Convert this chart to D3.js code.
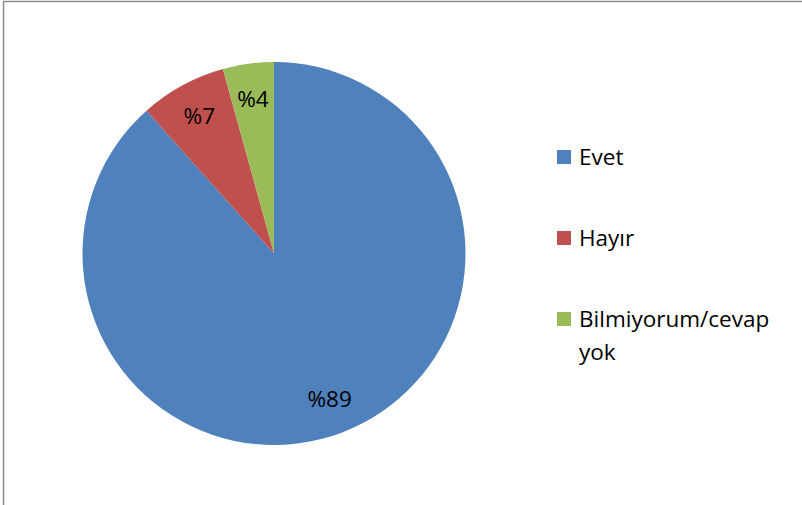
<!DOCTYPE html>
<html><head><meta charset="utf-8">
<script src="https://cdn.jsdelivr.net/npm/d3@7"></script>
<style>html,body{margin:0;padding:0;background:#fff;overflow:hidden}</style>
</head><body>
<script>
const categories = ["Evet", "Hayır", "Bilmiyorum/cevap yok"];
const values = [88.4, 7.3, 4.3];
const labels = ["%89", "%7", "%4"];
const legendLines = [["Evet"], ["Hayır"], ["Bilmiyorum/cevap", "yok"]];
const colors = ["#4F81BD", "#C0504D", "#9BBB59"];

const W = 802, H = 505;
const svg = d3.select("body").append("svg").attr("width", W).attr("height", H);
svg.append("rect").attr("x", 3.5).attr("y", 1.5).attr("width", W + 10).attr("height", H + 10)
  .attr("fill", "#fff").attr("stroke", "#8c8c8c").attr("stroke-width", 1.5);

const cx = 274, cy = 253.5, R = 191.5;
const font = "'Open Sans', sans-serif";
const fs = "22.5px";
const pie = d3.pie().sort(null).value(d => d)(values);
const arc = d3.arc().innerRadius(0).outerRadius(R);
const labelArc = d3.arc().innerRadius(156).outerRadius(156);
const g = svg.append("g").attr("transform", `translate(${cx},${cy})`);
g.selectAll("path").data(pie).join("path").attr("d", arc).attr("fill", (d, i) => colors[i]);
g.selectAll("text").data(pie).join("text")
  .attr("transform", (d, i) => {
    const c = labelArc.centroid(d);
    return `translate(${c[0]},${c[1]})`;
  })
  .attr("text-anchor", "middle").attr("dy", "0.35em")
  .style("font-family", font).style("font-size", fs).attr("fill", "#000")
  .text((d, i) => labels[i]);

const legY = d3.scalePoint().domain(categories).range([165, 327]);
const lg = svg.append("g");
categories.forEach((c, i) => {
  const y = legY(c);
  lg.append("rect").attr("x", 557).attr("y", y - 15).attr("width", 14).attr("height", 14).attr("fill", colors[i]);
  const t = lg.append("text").attr("x", 579).attr("y", y)
    .style("font-family", font).style("font-size", fs).attr("fill", "#000");
  legendLines[i].forEach((ln, j) => {
    t.append("tspan").attr("x", 579).attr("y", y + j * 33).text(ln);
  });
});
</script>
</body></html>
